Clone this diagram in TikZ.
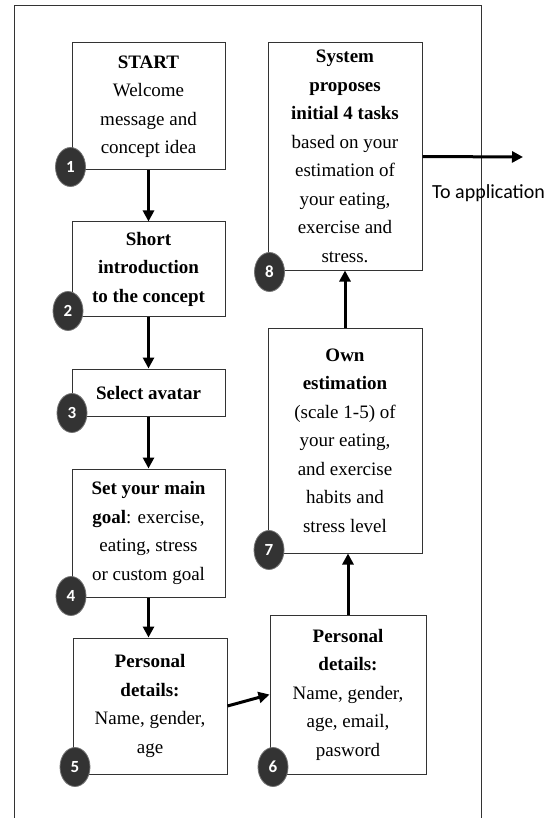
\documentclass[tikz,border=0pt]{standalone}
\usepackage{fontspec}
\setmainfont{Liberation Serif}
\newfontfamily\calib{Carlito}
\usetikzlibrary{arrows.meta,shapes.geometric}
\begin{document}
\begin{tikzpicture}[x=1pt,y=-1pt,
 stepbox/.style={draw=black!80,line width=1pt,align=center,inner sep=0pt,font=\fontsize{19}{28.5}\selectfont},
 badge/.style={ellipse,fill=black!80,draw=black!55,line width=0.8pt,minimum width=30pt,minimum height=39pt,inner sep=0pt,text=white,font=\calib\bfseries\fontsize{17}{17}\selectfont},
 flow/.style={line width=3pt,-{Triangle[length=11pt,width=11pt]}}]
\useasboundingbox (0,0) rectangle (559,818);
\draw[black!80,line width=1pt] (14,830) -- (14,6) -- (481,6) -- (481,830);
% boxes
\node[stepbox,minimum width=153pt,minimum height=127pt] (b1) at (148.5,106.5) {\textbf{START}\\Welcome\\message and\\concept idea};
\node[stepbox,minimum width=153pt,minimum height=94pt] (b2) at (148.5,269) {\textbf{Short}\\\textbf{introduction}\\\textbf{to the concept}};
\node[stepbox,minimum width=153pt,minimum height=47pt] (b3) at (148.5,392.5) {\textbf{Select avatar}};
\node[stepbox,minimum width=153pt,minimum height=128pt] (b4) at (148.5,533) {\textbf{Set your main}\\\textbf{goal}: exercise,\\eating, stress\\or custom goal};
\node[stepbox,minimum width=154pt,minimum height=136pt] (b5) at (150,706) {\textbf{Personal}\\\textbf{details:}\\Name, gender,\\age};
\node[stepbox,minimum width=156pt,minimum height=159pt] (b6) at (348,694.5) {\textbf{Personal}\\\textbf{details:}\\Name, gender,\\age, email,\\pasword};
\node[stepbox,minimum width=154pt,minimum height=225pt] (b7) at (345,440.5) {\textbf{Own}\\\textbf{estimation}\\(scale 1-5) of\\your eating,\\and exercise\\habits and\\stress level};
\node[stepbox,minimum width=154pt,minimum height=227pt] (b8) at (345,156.5) {\textbf{System}\\\textbf{proposes}\\\textbf{initial 4 tasks}\\based on your\\estimation of\\your eating,\\exercise and\\stress.};
% connectors
\draw[flow] (b1.south) -- (b2.north);
\draw[flow] (b2.south) -- (b3.north);
\draw[flow] (b3.south) -- (b4.north);
\draw[flow] (b4.south) -- (b4.south |- b5.north);
\draw[flow] (b5.east) -- (b6.west);
\draw[flow] (b6.north) -- (b6.north |- b7.south);
\draw[flow] (b7.north) -- (b7.north |- b8.south);
\coordinate (app) at (523,157);
\draw[flow] (b8.east) -- (app);
\node[font=\calib\fontsize{20}{20}\selectfont,anchor=base west,inner sep=0pt] (lbl) at (432,199) {To application};
% badges
\node[badge] (c1) at (70.5,167) {1};
\node[badge] (c2) at (68,311) {2};
\node[badge] (c3) at (72,413) {3};
\node[badge] (c4) at (71,596) {4};
\node[badge] (c5) at (75,767) {5};
\node[badge] (c6) at (273,767) {6};
\node[badge] (c7) at (269,550) {7};
\node[badge] (c8) at (269.5,272) {8};
\end{tikzpicture}
\end{document}
